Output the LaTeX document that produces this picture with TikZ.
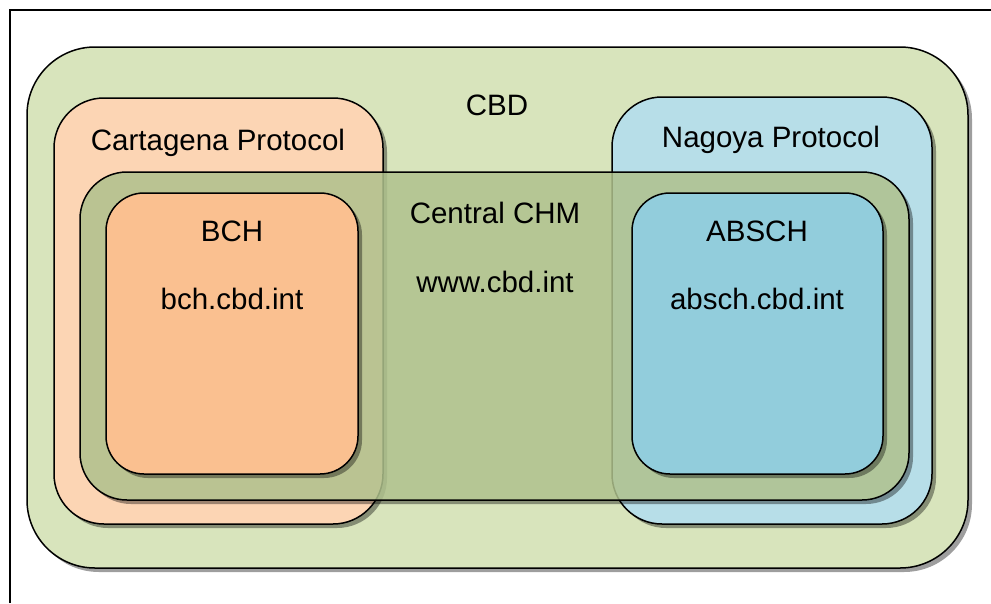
\documentclass[tikz,border=0pt]{standalone}
\usepackage{fontspec}
\setmainfont{Liberation Sans}
\usetikzlibrary{shadows}
\definecolor{cbdc}{HTML}{D8E4BC}
\definecolor{cartc}{HTML}{FCD5B4}
\definecolor{nagc}{HTML}{B7DEE8}
\definecolor{chmc}{HTML}{AFC18D}
\definecolor{bchc}{HTML}{FAC090}
\definecolor{absc}{HTML}{92CDDC}
\tikzset{
  box/.style={draw=black, line width=1.5pt, drop shadow={shadow xshift=4pt, shadow yshift=-4pt, opacity=0.38, fill=black}},
  plainbox/.style={draw=black, line width=1.5pt},
  lbl/.style={anchor=base, inner sep=0pt, font=\fontsize{29.5}{34}\selectfont},
  frame/.style={draw=black, line width=1.5pt}
}
\begin{document}
\begin{tikzpicture}[x=1pt,y=-1pt]
\useasboundingbox (0,0) rectangle (991,603);
\coordinate (f1) at (10,603);
\coordinate (f2) at (10,10);
\coordinate (f3) at (991,10);
\draw[frame] (f1) -- (f2) -- (f3);
% CBD
\path[box, fill=cbdc, rounded corners=68pt] (27,47) rectangle (968,568);
% Cartagena
\path[box, fill=cartc, rounded corners=50pt] (54,98) rectangle (383,524);
% Nagoya
\path[box, fill=nagc, rounded corners=50pt] (612,97) rectangle (932,524);
% Central CHM shadow (only outside the box)
\begin{scope}[even odd rule, rounded corners=47pt]
  \clip (-200,-200) rectangle (1200,800) (80,172) rectangle (909,500);
  \fill[black, opacity=0.38] (84,176) rectangle (913,504);
\end{scope}
% Central CHM
\path[plainbox, fill=chmc, fill opacity=0.85, rounded corners=47pt] (80,172) rectangle (909,500);
% BCH
\path[box, fill=bchc, rounded corners=38pt] (106,193) rectangle (358,474);
% ABSCH
\path[box, fill=absc, rounded corners=38pt] (632,193) rectangle (883,474);
% labels
\node[lbl] (tcbd) at (497,115) {CBD};
\node[lbl] (tcart) at (218,150) {Cartagena Protocol};
\node[lbl] (tnag) at (771,147) {Nagoya Protocol};
\node[lbl] (tchm) at (495,223) {Central CHM};
\node[lbl] (tchmurl) at (495,292) {www.cbd.int};
\node[lbl] (tbch) at (232,241) {BCH};
\node[lbl] (tbchurl) at (232,309) {bch.cbd.int};
\node[lbl] (tabs) at (757,241) {ABSCH};
\node[lbl] (tabsurl) at (757,309) {absch.cbd.int};
\end{tikzpicture}
\end{document}
